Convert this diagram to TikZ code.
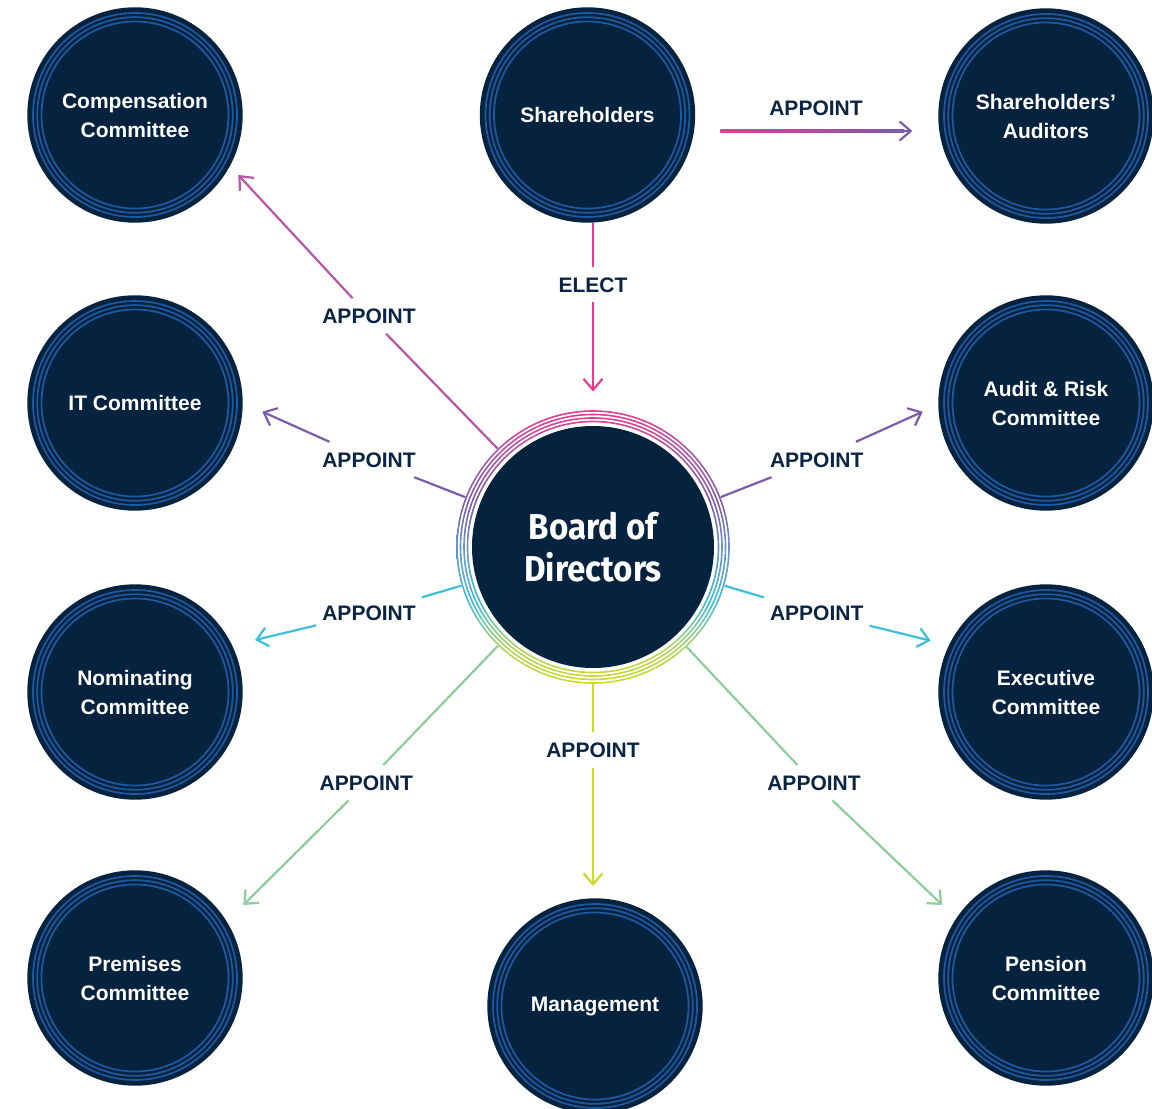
\documentclass[tikz,border=0pt]{standalone}
\usepackage{fontspec}
\setmainfont{Liberation Sans}
\newfontfamily\boardfont{Fira Sans}[FakeStretch=0.92]
\usetikzlibrary{arrows.meta,calc}
\definecolor{navy}{HTML}{05233F}
\definecolor{ringblue}{HTML}{1D5AA2}
\definecolor{txt}{HTML}{0A2544}
\definecolor{cPink}{HTML}{E93A8E}
\definecolor{cMag}{HTML}{B457A7}
\definecolor{cPurple}{HTML}{7B5CAA}
\definecolor{cBlue}{HTML}{6C8DC8}
\definecolor{cCyan}{HTML}{3EBED9}
\definecolor{cGreen}{HTML}{8ECC9C}
\definecolor{cLime}{HTML}{B2D45E}
\definecolor{cYG}{HTML}{CBDB27}
\pgfdeclareverticalshading{boardring}{100bp}{color(0bp)=(cYG); color(25bp)=(cYG); color(31.5bp)=(cLime); color(40bp)=(cCyan); color(51bp)=(cBlue); color(58bp)=(cPurple); color(67.5bp)=(cMag); color(75bp)=(cPink); color(100bp)=(cPink)}
\newcommand\crings[1]{\foreach \rr in {102,97.8,93.5}{\draw[ringblue, line width=1.7pt] (#1.center) circle[radius=\rr pt];}}
\begin{document}
\begin{tikzpicture}[x=1pt, y=-1pt,
  committee/.style={circle, fill=navy, minimum size=215.4pt, inner sep=0pt, text=white, align=center, font=\fontsize{21}{29}\selectfont\bfseries},
  lbl/.style={text=txt, font=\fontsize{21}{25}\selectfont\bfseries, text height=15pt, text depth=0pt, inner xsep=6pt, inner ysep=10pt},
  plain/.style={line width=2.2pt},
  conn/.style={line width=2.2pt, -{Straight Barb[length=11pt,width=19pt]}}]
\useasboundingbox (0,0) rectangle (1152,1109);
% committee nodes
\node[committee] (comp) at (135,115) {Compensation\\Committee};
\node[committee] (sh) at (587.5,115) {Shareholders};
\node[committee] (aud) at (1046,116) {Shareholders’\\Auditors};
\node[committee] (it) at (135,403) {IT Committee};
\node[committee] (ar) at (1046,403) {Audit \& Risk\\Committee};
\node[committee] (nom) at (135,692) {Nominating\\Committee};
\node[committee] (ex) at (1046,692) {Executive\\Committee};
\node[committee] (prem) at (135,978) {Premises\\Committee};
\node[committee] (mgmt) at (595,1006) {Management};
\node[committee] (pen) at (1046,978) {Pension\\Committee};
\foreach \n in {comp,sh,aud,it,ar,nom,ex,prem,mgmt,pen}{\crings{\n}}
% board
\coordinate (bc) at (593,547);
\fill[navy] (bc) circle[radius=121pt];
\shade[shading=boardring, even odd rule] (bc) circle[radius=136.8pt] (bc) circle[radius=135.2pt]
  (bc) circle[radius=133.3pt] (bc) circle[radius=131.7pt]
  (bc) circle[radius=129.8pt] (bc) circle[radius=128.2pt]
  (bc) circle[radius=126.3pt] (bc) circle[radius=124.7pt];
\node[circle, minimum size=274pt, inner sep=0pt, text=white, align=center,
  font=\boardfont\bfseries\fontsize{36}{42}\selectfont] (bd) at (bc) {Board of\\Directors};
% labels
\node[lbl] (lAud) at (816,108.3) {APPOINT};
\node[lbl] (lEl) at (593,284.7) {ELECT};
\node[lbl] (lComp) at (369,316) {APPOINT};
\node[lbl] (lIT) at (369,459.5) {APPOINT};
\node[lbl] (lNom) at (369,612.8) {APPOINT};
\node[lbl] (lPrem) at (366.3,782.8) {APPOINT};
\node[lbl] (lMg) at (593,750) {APPOINT};
\node[lbl] (lPen) at (814,782.8) {APPOINT};
\node[lbl] (lEx) at (816.7,612.8) {APPOINT};
\node[lbl] (lAR) at (816.7,459.5) {APPOINT};
% arrow tips
\coordinate (tComp) at (238.3,175);
\coordinate (tIT) at (262.3,411.7);
\coordinate (tNom) at (255,640);
\coordinate (tPrem) at (243.3,905);
\coordinate (tMg) at (593,886);
\coordinate (tPen) at (942.3,905);
\coordinate (tEx) at (930.7,640.7);
\coordinate (tAR) at (922.7,411.7);
\coordinate (tEl) at (593,391.5);
\coordinate (aStart) at ($(sh.east)+(25,16)$);
\coordinate (tAud) at (912.3,131);
% connectors
\draw[conn, cPurple] (aStart) -- (tAud);
\shade[left color=cPink, right color=cPurple] ($(aStart)+(0,-1.1)$) rectangle ($(tAud)+(-8,1.1)$);
\draw[plain, cPink] (sh.south -| bc) -- (lEl);
\draw[conn, cPink] (lEl) -- (tEl);
\draw[plain, cMag] (bd) -- (lComp);
\draw[conn, cMag] (lComp) -- (tComp);
\draw[plain, cPurple] (bd) -- (lIT);
\draw[conn, cPurple] (lIT) -- (tIT);
\draw[plain, cPurple] (bd) -- (lAR);
\draw[conn, cPurple] (lAR) -- (tAR);
\draw[plain, cCyan] (bd) -- (lNom);
\draw[conn, cCyan] (lNom) -- (tNom);
\draw[plain, cCyan] (bd) -- (lEx);
\draw[conn, cCyan] (lEx) -- (tEx);
\draw[plain, cGreen] (bd) -- (lPrem);
\draw[conn, cGreen] (lPrem) -- (tPrem);
\draw[plain, cGreen] (bd) -- (lPen);
\draw[conn, cGreen] (lPen) -- (tPen);
\draw[plain, cYG] (bd) -- (lMg);
\draw[conn, cYG] (lMg) -- (tMg);
\end{tikzpicture}
\end{document}
